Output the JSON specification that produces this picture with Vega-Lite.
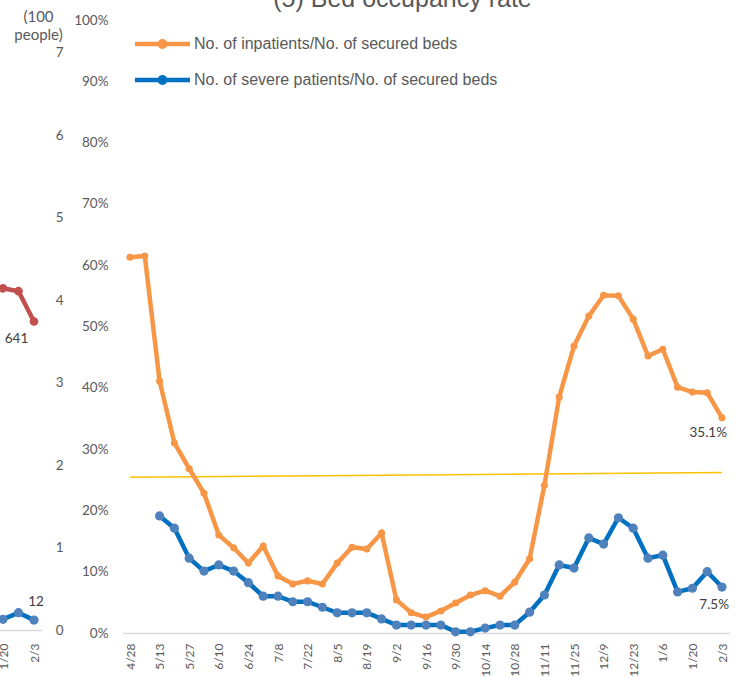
{
  "$schema": "https://vega.github.io/schema/vega-lite/v6.json",
  "width": 739,
  "height": 613,
  "autosize": {"type": "none"},
  "padding": {"left": 0, "top": 20, "right": 0, "bottom": 44},
  "background": "white",
  "config": {
    "view": {"stroke": null},
    "axis": {"labelFont": "Lato", "labelColor": "#595959", "grid": false, "ticks": false, "tickSize": 0, "titleFont": "Lato", "titleColor": "#595959"}
  },
  "title": {"text": "(5) Bed occupancy rate", "font": "Liberation Sans", "fontSize": 25, "fontWeight": "normal", "color": "#595959", "baseline": "alphabetic", "offset": 0, "dy": 23, "dx": 33, "anchor": "middle"},
  "datasets": {
    "main": [
      {"d": "4/28", "s": "No. of inpatients/No. of secured beds", "v": 0.613},
      {"d": "5/6", "s": "No. of inpatients/No. of secured beds", "v": 0.615},
      {"d": "5/13", "s": "No. of inpatients/No. of secured beds", "v": 0.411},
      {"d": "5/20", "s": "No. of inpatients/No. of secured beds", "v": 0.310},
      {"d": "5/27", "s": "No. of inpatients/No. of secured beds", "v": 0.268},
      {"d": "6/3", "s": "No. of inpatients/No. of secured beds", "v": 0.228},
      {"d": "6/10", "s": "No. of inpatients/No. of secured beds", "v": 0.160},
      {"d": "6/17", "s": "No. of inpatients/No. of secured beds", "v": 0.139},
      {"d": "6/24", "s": "No. of inpatients/No. of secured beds", "v": 0.114},
      {"d": "7/1", "s": "No. of inpatients/No. of secured beds", "v": 0.142},
      {"d": "7/8", "s": "No. of inpatients/No. of secured beds", "v": 0.093},
      {"d": "7/15", "s": "No. of inpatients/No. of secured beds", "v": 0.080},
      {"d": "7/22", "s": "No. of inpatients/No. of secured beds", "v": 0.085},
      {"d": "7/29", "s": "No. of inpatients/No. of secured beds", "v": 0.080},
      {"d": "8/5", "s": "No. of inpatients/No. of secured beds", "v": 0.114},
      {"d": "8/12", "s": "No. of inpatients/No. of secured beds", "v": 0.140},
      {"d": "8/19", "s": "No. of inpatients/No. of secured beds", "v": 0.137},
      {"d": "8/26", "s": "No. of inpatients/No. of secured beds", "v": 0.163},
      {"d": "9/2", "s": "No. of inpatients/No. of secured beds", "v": 0.054},
      {"d": "9/9", "s": "No. of inpatients/No. of secured beds", "v": 0.033},
      {"d": "9/16", "s": "No. of inpatients/No. of secured beds", "v": 0.026},
      {"d": "9/23", "s": "No. of inpatients/No. of secured beds", "v": 0.036},
      {"d": "9/30", "s": "No. of inpatients/No. of secured beds", "v": 0.049},
      {"d": "10/7", "s": "No. of inpatients/No. of secured beds", "v": 0.062},
      {"d": "10/14", "s": "No. of inpatients/No. of secured beds", "v": 0.069},
      {"d": "10/21", "s": "No. of inpatients/No. of secured beds", "v": 0.060},
      {"d": "10/28", "s": "No. of inpatients/No. of secured beds", "v": 0.083},
      {"d": "11/4", "s": "No. of inpatients/No. of secured beds", "v": 0.121},
      {"d": "11/11", "s": "No. of inpatients/No. of secured beds", "v": 0.241},
      {"d": "11/18", "s": "No. of inpatients/No. of secured beds", "v": 0.385},
      {"d": "11/25", "s": "No. of inpatients/No. of secured beds", "v": 0.468},
      {"d": "12/2", "s": "No. of inpatients/No. of secured beds", "v": 0.517},
      {"d": "12/9", "s": "No. of inpatients/No. of secured beds", "v": 0.551},
      {"d": "12/16", "s": "No. of inpatients/No. of secured beds", "v": 0.550},
      {"d": "12/23", "s": "No. of inpatients/No. of secured beds", "v": 0.512},
      {"d": "12/30", "s": "No. of inpatients/No. of secured beds", "v": 0.452},
      {"d": "1/6", "s": "No. of inpatients/No. of secured beds", "v": 0.463},
      {"d": "1/13", "s": "No. of inpatients/No. of secured beds", "v": 0.401},
      {"d": "1/20", "s": "No. of inpatients/No. of secured beds", "v": 0.393},
      {"d": "1/27", "s": "No. of inpatients/No. of secured beds", "v": 0.392},
      {"d": "2/3", "s": "No. of inpatients/No. of secured beds", "v": 0.351},
      {"d": "5/13", "s": "No. of severe patients/No. of secured beds", "v": 0.191},
      {"d": "5/20", "s": "No. of severe patients/No. of secured beds", "v": 0.171},
      {"d": "5/27", "s": "No. of severe patients/No. of secured beds", "v": 0.122},
      {"d": "6/3", "s": "No. of severe patients/No. of secured beds", "v": 0.101},
      {"d": "6/10", "s": "No. of severe patients/No. of secured beds", "v": 0.111},
      {"d": "6/17", "s": "No. of severe patients/No. of secured beds", "v": 0.101},
      {"d": "6/24", "s": "No. of severe patients/No. of secured beds", "v": 0.082},
      {"d": "7/1", "s": "No. of severe patients/No. of secured beds", "v": 0.060},
      {"d": "7/8", "s": "No. of severe patients/No. of secured beds", "v": 0.060},
      {"d": "7/15", "s": "No. of severe patients/No. of secured beds", "v": 0.051},
      {"d": "7/22", "s": "No. of severe patients/No. of secured beds", "v": 0.051},
      {"d": "7/29", "s": "No. of severe patients/No. of secured beds", "v": 0.042},
      {"d": "8/5", "s": "No. of severe patients/No. of secured beds", "v": 0.033},
      {"d": "8/12", "s": "No. of severe patients/No. of secured beds", "v": 0.033},
      {"d": "8/19", "s": "No. of severe patients/No. of secured beds", "v": 0.033},
      {"d": "8/26", "s": "No. of severe patients/No. of secured beds", "v": 0.023},
      {"d": "9/2", "s": "No. of severe patients/No. of secured beds", "v": 0.013},
      {"d": "9/9", "s": "No. of severe patients/No. of secured beds", "v": 0.013},
      {"d": "9/16", "s": "No. of severe patients/No. of secured beds", "v": 0.013},
      {"d": "9/23", "s": "No. of severe patients/No. of secured beds", "v": 0.013},
      {"d": "9/30", "s": "No. of severe patients/No. of secured beds", "v": 0.002},
      {"d": "10/7", "s": "No. of severe patients/No. of secured beds", "v": 0.002},
      {"d": "10/14", "s": "No. of severe patients/No. of secured beds", "v": 0.008},
      {"d": "10/21", "s": "No. of severe patients/No. of secured beds", "v": 0.013},
      {"d": "10/28", "s": "No. of severe patients/No. of secured beds", "v": 0.013},
      {"d": "11/4", "s": "No. of severe patients/No. of secured beds", "v": 0.034},
      {"d": "11/11", "s": "No. of severe patients/No. of secured beds", "v": 0.062},
      {"d": "11/18", "s": "No. of severe patients/No. of secured beds", "v": 0.111},
      {"d": "11/25", "s": "No. of severe patients/No. of secured beds", "v": 0.106},
      {"d": "12/2", "s": "No. of severe patients/No. of secured beds", "v": 0.155},
      {"d": "12/9", "s": "No. of severe patients/No. of secured beds", "v": 0.145},
      {"d": "12/16", "s": "No. of severe patients/No. of secured beds", "v": 0.188},
      {"d": "12/23", "s": "No. of severe patients/No. of secured beds", "v": 0.171},
      {"d": "12/30", "s": "No. of severe patients/No. of secured beds", "v": 0.122},
      {"d": "1/6", "s": "No. of severe patients/No. of secured beds", "v": 0.127},
      {"d": "1/13", "s": "No. of severe patients/No. of secured beds", "v": 0.067},
      {"d": "1/20", "s": "No. of severe patients/No. of secured beds", "v": 0.073},
      {"d": "1/27", "s": "No. of severe patients/No. of secured beds", "v": 0.100},
      {"d": "2/3", "s": "No. of severe patients/No. of secured beds", "v": 0.075}
    ],
    "left": [
      {"d": "1/13", "s": "red", "v": 712},
      {"d": "1/20", "s": "red", "v": 710},
      {"d": "1/27", "s": "red", "v": 704},
      {"d": "2/3", "s": "red", "v": 641},
      {"d": "1/13", "s": "blue", "v": 12},
      {"d": "1/20", "s": "blue", "v": 13},
      {"d": "1/27", "s": "blue", "v": 21},
      {"d": "2/3", "s": "blue", "v": 12}
    ],
    "threshold": [
      {"start": "4/28", "end": "2/3", "y_start": 0.254, "y_end": 0.262}
    ]
  },
  "layer": [
    {
      "layer": [
        {
          "data": {"name": "threshold"},
          "mark": {"type": "rule", "color": "#FFC000", "strokeWidth": 1.5},
          "encoding": {
            "x": {"field": "start", "type": "ordinal", "scale": {"type": "point", "domain": ["4/28","5/6","5/13","5/20","5/27","6/3","6/10","6/17","6/24","7/1","7/8","7/15","7/22","7/29","8/5","8/12","8/19","8/26","9/2","9/9","9/16","9/23","9/30","10/7","10/14","10/21","10/28","11/4","11/11","11/18","11/25","12/2","12/9","12/16","12/23","12/30","1/6","1/13","1/20","1/27","2/3"], "range": [122.6, 729.4], "padding": 0.5},
              "axis": {"orient": "bottom", "title": null, "values": ["4/28","5/13","5/27","6/10","6/24","7/8","7/22","8/5","8/19","9/2","9/16","9/30","10/14","10/28","11/11","11/25","12/9","12/23","1/6","1/20","2/3"], "labelAngle": -90, "labelPadding": 10, "labelFontSize": 12, "domainColor": "#D9D9D9", "domainWidth": 1.5}},
            "x2": {"field": "end"},
            "y": {"field": "y_start", "type": "quantitative", "scale": {"domain": [0, 1], "nice": false},
              "axis": {"orient": "left", "title": null, "offset": -113, "values": [0, 0.1, 0.2, 0.3, 0.4, 0.5, 0.6, 0.7, 0.8, 0.9, 1], "format": ".0%", "domain": false, "labelPadding": 5, "labelFontSize": 13.5}},
            "y2": {"field": "y_end"}
          }
        },
        {
          "data": {"name": "main"},
          "encoding": {
            "x": {"field": "d", "type": "ordinal", "scale": {"type": "point", "domain": ["4/28","5/6","5/13","5/20","5/27","6/3","6/10","6/17","6/24","7/1","7/8","7/15","7/22","7/29","8/5","8/12","8/19","8/26","9/2","9/9","9/16","9/23","9/30","10/7","10/14","10/21","10/28","11/4","11/11","11/18","11/25","12/2","12/9","12/16","12/23","12/30","1/6","1/13","1/20","1/27","2/3"], "range": [122.6, 729.4], "padding": 0.5},
              "axis": {"orient": "bottom", "title": null, "values": ["4/28","5/13","5/27","6/10","6/24","7/8","7/22","8/5","8/19","9/2","9/16","9/30","10/14","10/28","11/11","11/25","12/9","12/23","1/6","1/20","2/3"], "labelAngle": -90, "labelPadding": 10, "labelFontSize": 12, "domainColor": "#D9D9D9", "domainWidth": 1.5}},
            "y": {"field": "v", "type": "quantitative", "scale": {"domain": [0, 1], "nice": false},
              "axis": {"orient": "left", "title": null, "offset": -113, "values": [0, 0.1, 0.2, 0.3, 0.4, 0.5, 0.6, 0.7, 0.8, 0.9, 1], "format": ".0%", "domain": false, "labelPadding": 5, "labelFontSize": 13.5}}
          },
          "layer": [
            {
              "mark": {"type": "line", "strokeWidth": 4.5},
              "encoding": {
                "color": {"field": "s", "type": "nominal",
                  "scale": {"domain": ["No. of inpatients/No. of secured beds", "No. of severe patients/No. of secured beds"], "range": ["#F79646", "#0070C0"]},
                  "legend": {"orient": "none", "legendX": 135, "legendY": -3.5, "title": null, "padding": 0,
                    "symbolType": "M-1,-0.08H1V0.08H-1Z M-0.18,0A0.18,0.18,0,1,1,0.18,0A0.18,0.18,0,1,1,-0.18,0Z",
                    "symbolSize": 3025, "symbolStrokeWidth": 0, "rowPadding": -22, "labelOffset": 4,
                    "labelFont": "Liberation Sans", "labelFontSize": 16, "labelColor": "#595959", "labelLimit": 500,
                    "encode": {"symbols": {"update": {
                      "fill": {"scale": "color", "field": "value"},
                      "strokeWidth": {"value": 0},
                      "size": {"value": 3025},
                      "shape": {"value": "M-1,-0.08H1V0.08H-1Z M-0.18,0A0.18,0.18,0,1,1,0.18,0A0.18,0.18,0,1,1,-0.18,0Z"}
                    }}}}
                }
              }
            },
            {
              "transform": [{"filter": "datum.s == 'No. of inpatients/No. of secured beds'"}],
              "mark": {"type": "point", "filled": true, "opacity": 1, "color": "#F79646", "size": 50},
              "encoding": {}
            },
            {
              "transform": [{"filter": "datum.s == 'No. of severe patients/No. of secured beds'"}],
              "mark": {"type": "point", "filled": true, "opacity": 1, "color": "#4F81BD", "size": 85},
              "encoding": {}
            },
            {
              "transform": [{"filter": "datum.d == '2/3' && datum.s == 'No. of inpatients/No. of secured beds'"}],
              "mark": {"type": "text", "align": "right", "baseline": "middle", "dx": 5, "dy": 15, "font": "Lato", "fontSize": 13.5, "color": "#404040"},
              "encoding": {"text": {"field": "v", "type": "quantitative", "format": ".1%"}}
            },
            {
              "transform": [{"filter": "datum.d == '2/3' && datum.s == 'No. of severe patients/No. of secured beds'"}],
              "mark": {"type": "text", "align": "right", "baseline": "middle", "dx": 7, "dy": 18, "font": "Lato", "fontSize": 13.5, "color": "#404040"},
              "encoding": {"text": {"field": "v", "type": "quantitative", "format": ".1%"}}
            }
          ]
        }
      ]
    },
    {
      "data": {"name": "left"},
      "layer": [
        {
          "transform": [{"filter": "datum.s == 'red'"}],
          "encoding": {
            "x": {"field": "d", "type": "ordinal", "scale": {"type": "point", "domain": ["1/13", "1/20", "1/27", "2/3"], "range": [-20.25, 41.75], "padding": 0.5},
              "axis": {"orient": "bottom", "title": null, "offset": -3, "values": ["1/20", "2/3"], "labelAngle": -90, "labelPadding": 13, "labelFontSize": 12, "domainColor": "#D9D9D9", "domainWidth": 1.5}},
            "y": {"field": "v", "type": "quantitative", "scale": {"domain": [0, 1200], "range": [610, 32.5], "nice": false, "zero": false}, "axis": null}
          },
          "layer": [
            {"mark": {"type": "line", "color": "#C0504D", "strokeWidth": 4.5}, "encoding": {}},
            {"mark": {"type": "point", "filled": true, "opacity": 1, "color": "#C0504D", "size": 75}, "encoding": {}},
            {"transform": [{"filter": "datum.d == '2/3'"}], "mark": {"type": "text", "align": "center", "baseline": "middle", "dx": -17.5, "dy": 17, "font": "Lato", "fontSize": 13.5, "color": "#404040"}, "encoding": {"text": {"field": "v", "type": "quantitative"}}}
          ]
        },
        {
          "transform": [{"filter": "datum.s == 'blue'"}],
          "encoding": {
            "x": {"field": "d", "type": "ordinal", "scale": {"type": "point", "domain": ["1/13", "1/20", "1/27", "2/3"], "range": [-20.25, 41.75], "padding": 0.5},
              "axis": {"orient": "bottom", "title": null, "offset": -3, "values": ["1/20", "2/3"], "labelAngle": -90, "labelPadding": 13, "labelFontSize": 12, "domainColor": "#D9D9D9", "domainWidth": 1.5}},
            "y": {"field": "v", "type": "quantitative", "scale": {"domain": [0, 700], "range": [610, 32.5], "nice": false, "zero": false},
              "axis": {"orient": "left", "offset": -65, "values": [0, 100, 200, 300, 400, 500, 600, 700], "labelExpr": "datum.value / 100", "domain": false, "labelPadding": 2, "labelFontSize": 13.5,
                "title": ["(100", "people)"], "titleAngle": 0, "titleAlign": "center", "titleBaseline": "top", "titleX": -27, "titleY": -11, "titleFontSize": 15, "titleFontWeight": "normal", "titleLineHeight": 18}}
          },
          "layer": [
            {"mark": {"type": "line", "color": "#0070C0", "strokeWidth": 4.5}, "encoding": {}},
            {"mark": {"type": "point", "filled": true, "opacity": 1, "color": "#4F81BD", "size": 85}, "encoding": {}},
            {"transform": [{"filter": "datum.d == '2/3'"}], "mark": {"type": "text", "align": "center", "baseline": "middle", "dx": 2, "dy": -18, "font": "Lato", "fontSize": 13.5, "color": "#404040"}, "encoding": {"text": {"field": "v", "type": "quantitative"}}}
          ]
        }
      ],
      "resolve": {"scale": {"y": "independent"}}
    }
  ],
  "resolve": {"scale": {"x": "independent", "y": "independent"}}
}
